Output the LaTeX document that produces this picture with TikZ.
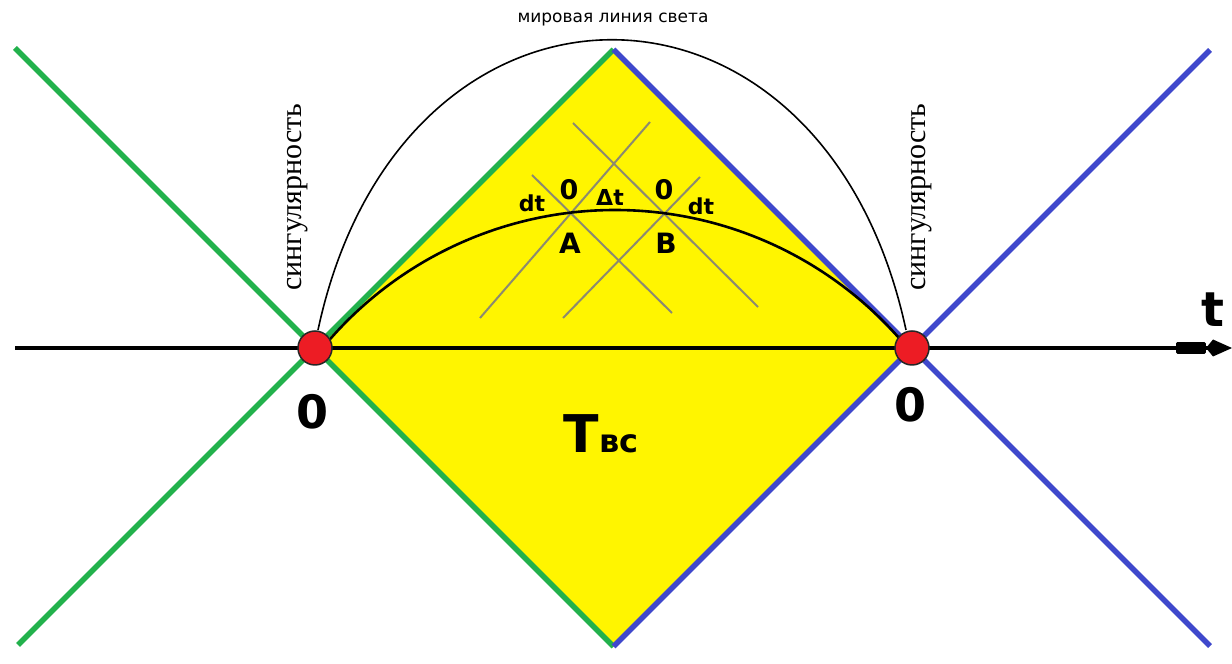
\documentclass[tikz,border=0pt]{standalone}
\usepackage{fontspec}
\setmainfont{Liberation Serif}
\newfontfamily\lblfont{DejaVu Sans}
\usetikzlibrary{arrows.meta}
\definecolor{pgreen}{RGB}{34,177,76}
\definecolor{pblue}{RGB}{63,72,204}
\definecolor{pyellow}{RGB}{255,245,0}
\definecolor{pred}{RGB}{237,28,36}
\definecolor{pgrey}{RGB}{140,138,112}
\begin{document}
\begin{tikzpicture}[x=1pt,y=1pt,
  greenline/.style={pgreen,line width=5.5pt},
  blueline/.style={pblue,line width=5.5pt},
  greyline/.style={pgrey,line width=2pt},
  sing/.style={circle,fill=pred,draw=black!85,line width=1.5pt,minimum size=34pt,inner sep=0pt},
  bigbold/.style={font=\lblfont\bfseries\fontsize{46}{46}\selectfont,inner sep=0pt},
  smallbold/.style={font=\lblfont\bfseries\fontsize{24}{24}\selectfont,inner sep=0pt},
  vertlabel/.style={font=\fontsize{30}{30}\selectfont,rotate=90,inner sep=0pt},
  topnote/.style={font=\lblfont\fontsize{17}{17}\selectfont,inner sep=0pt}]
\useasboundingbox (0,0) rectangle (1232,664);
\fill[white] (0,0) rectangle (1232,664);
% key coordinates
\coordinate (T) at (613.5,614.5);
\coordinate (Bt) at (613.5,17.5);
\coordinate (g1) at (15,616);
\coordinate (g2) at (18,19);
\coordinate (b1) at (1210,18);
\coordinate (b2) at (1210,614);
\coordinate (ax0) at (15,316);
\coordinate (ax1) at (1232,316);
% diamond
\fill[pyellow] (315,316) -- (T) -- (912,316) -- (Bt) -- cycle;
% light cones
\draw[greenline] (g1) -- (Bt);
\draw[greenline] (g2) -- (T);
\draw[blueline] (T) -- (b1);
\draw[blueline] (Bt) -- (b2);
% grey light cones of A and B
\coordinate (q1a) at (480,346); \coordinate (q1b) at (650,542);
\coordinate (q2a) at (532,489); \coordinate (q2b) at (672,351);
\coordinate (q3a) at (563,346); \coordinate (q3b) at (700,487);
\coordinate (q4a) at (573,541); \coordinate (q4b) at (758,357);
\draw[greyline] (q1a) -- (q1b);
\draw[greyline] (q2a) -- (q2b);
\draw[greyline] (q3a) -- (q3b);
\draw[greyline] (q4a) -- (q4b);
% arcs
\coordinate (u0) at (318,334);
\coordinate (u1) at (906,334);
\draw[black,line width=1.6pt] (u0) .. controls (401,721) and (823,721) .. (u1);
\coordinate (w0) at (324.7,318.6);
\draw[black,line width=2.6pt] (w0) arc[start angle=140,end angle=40,radius=379pt];
% axis
\draw[black,line width=3.2pt,-{Rectangle[length=30pt,width=12pt,round]Kite[length=26pt,width=17pt,inset=7pt]}] (ax0) -- (ax1);
% singularities
\node[sing] (L) at (315,316) {};
\node[sing] (R) at (912,316) {};
% labels
\node[topnote] (wl) at (613,644) {мировая линия света};
\node[vertlabel] (sl) at (298,467) {сингулярность};
\node[vertlabel] (sr) at (922,467) {сингулярность};
\node[bigbold] (zl) at (313,252) {0};
\node[bigbold] (zr) at (910,259) {0};
\node[font=\lblfont\bfseries\fontsize{48}{48}\selectfont,inner sep=0pt] (tl) at (1213,354) {t};
\node[anchor=base,inner sep=0pt] (tvs) at (601,211) {\lblfont\bfseries\fontsize{52}{52}\selectfont Т\fontsize{32}{32}\selectfont вс};
\node[smallbold,font=\lblfont\bfseries\fontsize{22}{22}\selectfont] (dtl) at (532,461) {dt};
\node[smallbold,font=\lblfont\bfseries\fontsize{27}{27}\selectfont] (zA) at (569,474) {0};
\node[smallbold,font=\lblfont\bfseries\fontsize{22}{22}\selectfont] (Dt) at (610,467) {Δt};
\node[smallbold,font=\lblfont\bfseries\fontsize{27}{27}\selectfont] (zB) at (664,474) {0};
\node[smallbold,font=\lblfont\bfseries\fontsize{22}{22}\selectfont] (dtr) at (701,458) {dt};
\node[smallbold,font=\lblfont\bfseries\fontsize{28}{28}\selectfont] (A) at (570,421) {A};
\node[smallbold,font=\lblfont\bfseries\fontsize{28}{28}\selectfont] (B) at (666,421) {B};
\end{tikzpicture}
\end{document}
